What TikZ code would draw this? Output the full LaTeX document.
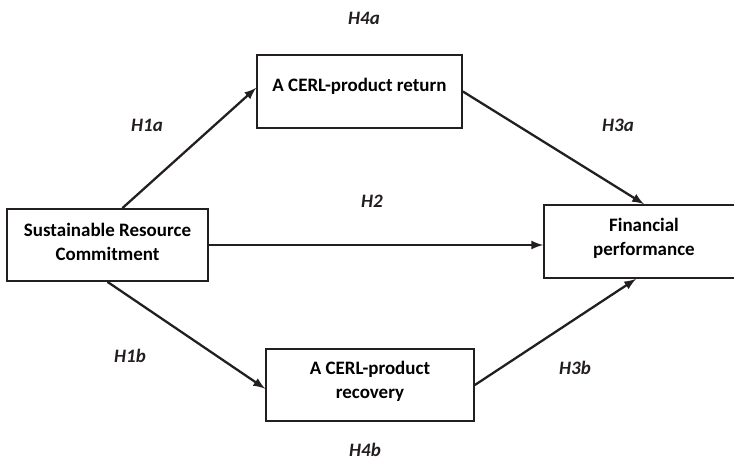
\documentclass[tikz,border=0pt]{standalone}
\usepackage{fontspec}
\setmainfont{Carlito}
\usetikzlibrary{positioning,shapes,fit,arrows}
\definecolor{mygray}{RGB}{35,31,32}

\begin{document}
\begin{tikzpicture}[>=latex,
    box/.style={draw=mygray,line width=1pt,align=center,inner sep=0pt,
                font=\fontsize{10.8}{13.7}\selectfont\bfseries},
    hyp/.style={font=\fontsize{10.8}{13.7}\selectfont\bfseries\itshape,text=mygray},
    link/.style={->,line width=1.3pt,mygray}]
\useasboundingbox (0,0) rectangle (14.68,9.18);

\node[box,minimum width=4.02cm,minimum height=1.44cm,text depth=0.12cm] (src) at (2.15,4.28) {Sustainable Resource\\Commitment};
\node[box,minimum width=4.10cm,minimum height=1.46cm,text depth=0.28cm] (ret) at (7.19,7.35) {A CERL-product return};
\node[box,minimum width=4.16cm,minimum height=1.44cm,text depth=0.22cm] (rec) at (7.40,1.48) {A CERL-product\\recovery};
\node[box,minimum width=4.00cm,minimum height=1.46cm,text depth=0.20cm] (fin) at (12.88,4.35) {Financial\\performance};

\node[hyp] (h4a) at (7.28,8.82) {H4a};
\node[hyp] (h1a) at (2.94,6.68) {H1a};
\node[hyp] (h3a) at (12.36,6.68) {H3a};
\node[hyp] (h2)  at (7.44,5.16) {H2};
\node[hyp] (h1b) at (2.60,2.06) {H1b};
\node[hyp] (h3b) at (11.50,1.82) {H3b};
\node[hyp] (h4b) at (7.30,0.19) {H4b};

\draw[link] (src.68) -- (ret.178);
\draw[link] (ret.east) -- (fin.north);
\draw[link] (src.east) -- (src.east -| fin.west);
\draw[link] (src.south) -- (rec.182);
\draw[link] (rec.east) -- (fin.258);
% \draw[link] (ret) -- (rec);

\end{tikzpicture}
\end{document}
